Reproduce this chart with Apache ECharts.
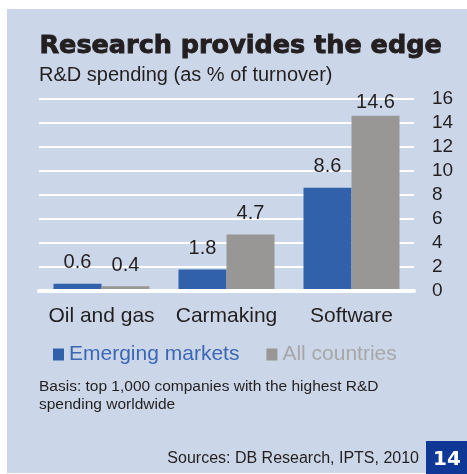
<!DOCTYPE html>
<html>
<head>
<meta charset="utf-8">
<script src="https://cdn.jsdelivr.net/npm/echarts@6/dist/echarts.min.js"></script>
<style>
  html, body { margin: 0; padding: 0; background: #ffffff; }
  #chart { width: 467px; height: 474px; }
</style>
</head>
<body>
<div id="chart"></div>
<script>
// Sectors compared
const categories = ['Oil and gas', 'Carmaking', 'Software'];
// R&D spending as % of turnover
const emergingMarkets = [0.6, 1.8, 8.6];
const allCountries = [0.4, 4.7, 14.6];
// Value axis
const yTicks = [0, 2, 4, 6, 8, 10, 12, 14, 16];

const seriesNames = ['Emerging markets', 'All countries'];
const blue = '#3161ab';
const grey = '#999795';
const panel = '#cbd7e8';
const ink = '#231f20';
const sans = '"Liberation Sans", Arial, sans-serif';

const yMin = yTicks[0];
const yMax = yTicks[yTicks.length - 1];
const yStep = yTicks[1] - yTicks[0];

// Labels sit above the bars; the tallest bar keeps its label just under the top line
function withLabels(values) {
  return values.map(function (v) {
    const item = { value: v };
    if (v > yMax - 2) item.label = { distance: 3 };
    return item;
  });
}

const chart = echarts.init(document.getElementById('chart'), null, { renderer: 'canvas' });

chart.setOption({
  backgroundColor: panel,
  animation: false,
  grid: { left: 39, right: 53, top: 99, bottom: 183, containLabel: false },
  legend: {
    left: 53,
    top: 344,
    itemWidth: 11,
    itemHeight: 12,
    itemGap: 27,
    icon: 'rect',
    padding: 0,
    textStyle: { fontFamily: sans, fontSize: 21 },
    data: [
      { name: seriesNames[0], textStyle: { color: '#3c67b5' } },
      { name: seriesNames[1], textStyle: { color: '#a7a7a7' } }
    ]
  },
  xAxis: {
    type: 'category',
    data: categories,
    z: 5,
    axisLine: { show: true, lineStyle: { color: '#ffffff', width: 4 } },
    axisTick: { show: false },
    axisLabel: { color: ink, fontFamily: sans, fontSize: 21, margin: 15, interval: 0 }
  },
  yAxis: {
    type: 'value',
    position: 'right',
    min: yMin,
    max: yMax,
    interval: yStep,
    axisLine: { show: false },
    axisTick: { show: false },
    axisLabel: { color: ink, fontFamily: sans, fontSize: 19, margin: 18, align: 'left' },
    splitLine: { lineStyle: { color: '#ffffff', width: 2 } }
  },
  series: [
    {
      name: seriesNames[0],
      type: 'bar',
      data: withLabels(emergingMarkets),
      barWidth: 48,
      barGap: '0%',
      itemStyle: { color: blue },
      label: { show: true, position: 'top', distance: 11, color: ink, fontFamily: sans, fontSize: 20 }
    },
    {
      name: seriesNames[1],
      type: 'bar',
      data: withLabels(allCountries),
      barWidth: 48,
      barGap: '0%',
      itemStyle: { color: grey },
      label: { show: true, position: 'top', distance: 11, color: ink, fontFamily: sans, fontSize: 20 }
    }
  ],
  graphic: [
    // white margin round the panel
    { type: 'rect', shape: { x: 0, y: 0, width: 7, height: 474 }, style: { fill: '#ffffff' }, silent: true },
    { type: 'rect', shape: { x: 0, y: 0, width: 467, height: 9 }, style: { fill: '#ffffff' }, silent: true },
    { type: 'rect', shape: { x: 0, y: 473, width: 467, height: 1 }, style: { fill: '#ffffff' }, silent: true },
    {
      type: 'text', left: 39, top: 33,
      style: {
        text: 'Research provides the edge', fill: ink,
        stroke: ink, lineWidth: 0.9,
        font: 'bold 25.5px "DejaVu Sans", sans-serif'
      }
    },
    {
      type: 'text', left: 39, top: 65,
      style: { text: 'R&D spending (as % of turnover)', fill: ink, font: '20px ' + sans }
    },
    {
      type: 'text', left: 39, top: 378,
      style: {
        text: 'Basis: top 1,000 companies with the highest R&D\nspending worldwide',
        fill: ink, font: '15.5px ' + sans, lineHeight: 18
      }
    },
    {
      type: 'text', right: 48, top: 451,
      style: { text: 'Sources: DB Research, IPTS, 2010', fill: ink, font: '16px ' + sans }
    },
    { type: 'rect', shape: { x: 426, y: 441, width: 41, height: 33 }, style: { fill: '#0e3796' }, silent: true },
    {
      type: 'text', x: 447, y: 460,
      style: { text: '14', fill: '#ffffff', font: 'bold 20px "DejaVu Sans", sans-serif', textAlign: 'center', textVerticalAlign: 'middle' }
    }
  ]
});
</script>
</body>
</html>
